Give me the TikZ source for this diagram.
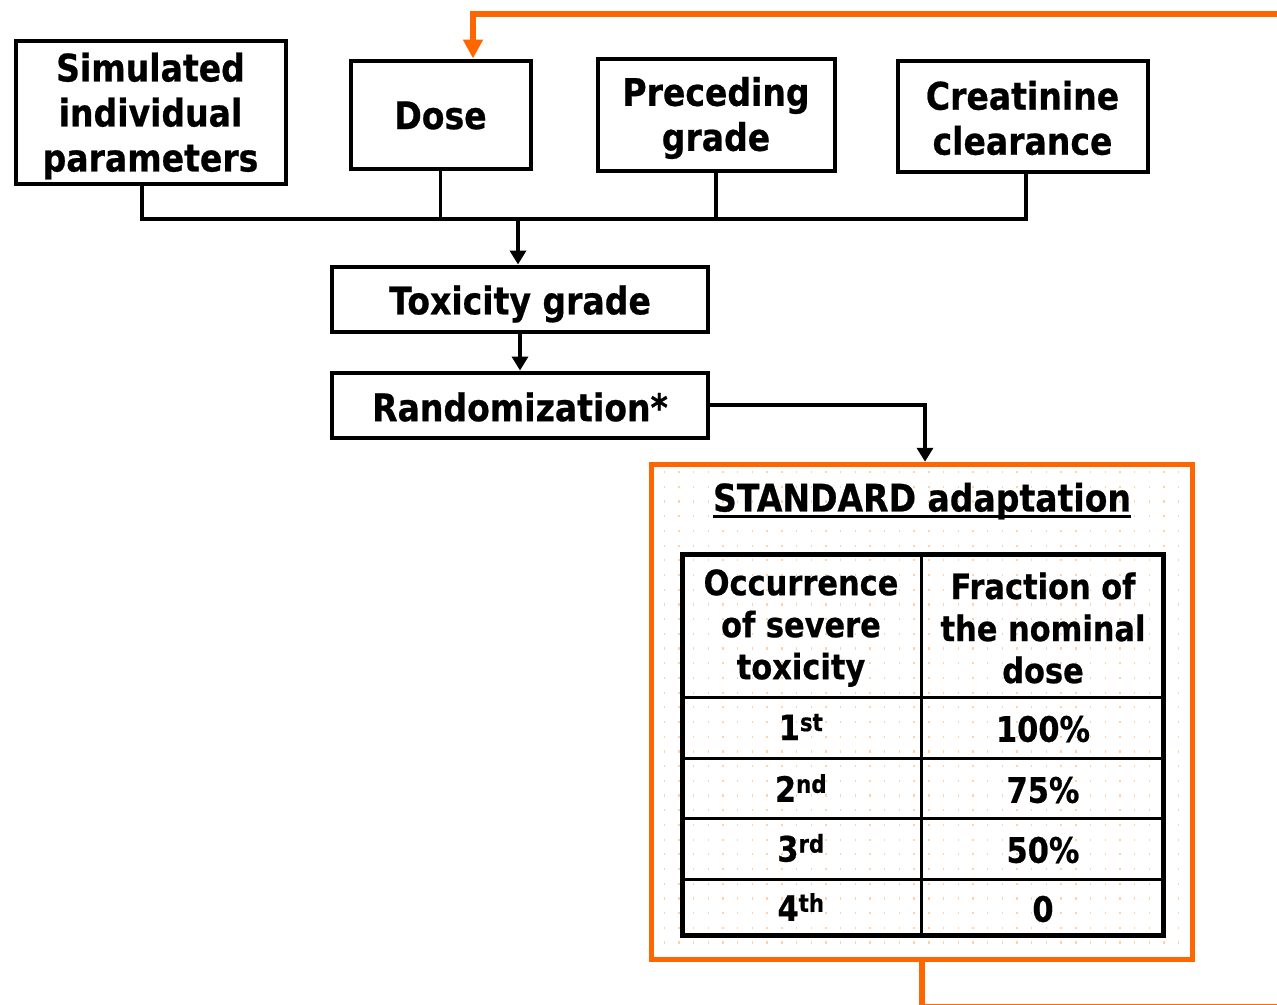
\documentclass[tikz,border=0pt]{standalone}
\usepackage{fontspec}
\setmainfont{DejaVu Sans}[FakeStretch=0.87,BoldFeatures={FakeBold=0.6}]
\usetikzlibrary{arrows.meta}
\definecolor{orng}{HTML}{FF6600}
\definecolor{dotc}{HTML}{FFD2A8}

\begin{document}
\begin{tikzpicture}[x=1pt,y=-1pt,
  box/.style={draw,line width=4pt,inner sep=0pt},
  txt/.style={align=center,inner sep=0pt,
    font=\fontsize{38}{45}\selectfont\bfseries},
  cell/.style={align=center,inner sep=0pt,
    font=\fontsize{35}{42}\selectfont\bfseries},
  conn/.style={line width=3.5pt},
  arr/.style={conn,-{Triangle[length=14pt,width=16pt]}},
  fb/.style={draw=orng,line width=6pt},
  fbarr/.style={fb,-{Triangle[length=19pt,width=19pt]}},
]
\useasboundingbox (0,0) rectangle (1277,1004);
\clip (0,0) rectangle (1277,1004);

% input boxes
\node[box,minimum width=270pt,minimum height=143pt] (sim) at (150.5,112) {};
\node[txt] (simT) at ([yshift=-4pt]sim.center) {Simulated\\individual\\parameters};
\node[box,minimum width=180pt,minimum height=108pt] (dose) at (440.5,114.5) {};
\node[txt] (doseT) at ([yshift=-1pt]dose.center) {Dose};
\node[box,minimum width=237pt,minimum height=112pt] (prec) at (716,114.5) {};
\node[txt] (precT) at ([yshift=-3.5pt]prec.center) {Preceding\\grade};
\node[box,minimum width=250pt,minimum height=111pt] (creat) at (1022.5,116) {};
\node[txt] (creatT) at ([yshift=-2pt]creat.center) {Creatinine\\clearance};

% model steps
\node[box,minimum width=376pt,minimum height=65pt] (tox) at (520,299) {};
\node[txt] (toxT) at ([yshift=-5pt]tox.center) {Toxicity grade};
\node[box,minimum width=376pt,minimum height=65pt] (rand) at (520,405) {};
\node[txt] (randT) at ([yshift=-2pt]rand.center) {Randomization*};

% collecting bus
\coordinate (busL) at (142,219);
\coordinate (busR) at (1026,219);
\draw[conn] (sim.south -| busL) -- (busL) -- (busR) -- (busR |- creat.south);
\draw[conn] (dose.south) -- (dose.south |- busL);
\draw[conn] (prec.south) -- (prec.south |- busL);
\draw[arr] ([xshift=-2pt]tox.north |- busL) -- ([xshift=-2pt]tox.north);
\draw[arr] (tox.south) -- (rand.north);

% dose adaptation panel
\node[draw=orng,line width=5.5pt,minimum width=541pt,minimum height=495pt,inner sep=0pt]
  (std) at (922,712) {};
\foreach \i in {0,...,35}{
  \foreach \j in {0,...,32}{
    \fill[dotc] ({663.5+14.7*\i},{471+14.7*\j}) rectangle ++(1.4,2.2);
  }
}
\draw[arr] (rand.east) -| ([xshift=3pt]std.north);

\node[inner sep=0pt,font=\fontsize{38}{40}\selectfont\bfseries] (title) at (922,501)
  {STANDARD adaptation};
\draw[line width=3pt] ([yshift=-5pt]title.base west) -- ([yshift=-5pt]title.base east);

% table
\node[draw,line width=5.5pt,minimum width=481pt,minimum height=381pt,inner sep=0pt]
  (tab) at (923,745) {};
\draw[line width=3pt] (921,554.5) -- (921,935.5);
\foreach \y in {697,758,818,879}{
  \draw[line width=3pt] (682.5,\y) -- (1163.5,\y);
}
\node[cell] (h1) at (801,628) {Occurrence\\of severe\\toxicity};
\node[cell] (h2) at (1043,628) {Fraction of\\the nominal\\dose};
\node[cell] (r1a) at (801,727) {1\textsuperscript{st}};
\node[cell] (r1b) at (1043,729) {100\%};
\node[cell] (r2a) at (801,788) {2\textsuperscript{nd}};
\node[cell] (r2b) at (1043,790) {75\%};
\node[cell] (r3a) at (801,848) {3\textsuperscript{rd}};
\node[cell] (r3b) at (1043,850) {50\%};
\node[cell] (r4a) at (801,907) {4\textsuperscript{th}};
\node[cell] (r4b) at (1043,909) {0};

% feedback loop to the dose
\coordinate (fbBot) at (1300,1007);
\coordinate (fbTop) at (473,14);
\draw[fbarr] (std.south) -- (std.south |- fbBot) -- (fbBot) -- (fbBot |- fbTop)
  -- (fbTop) -- (fbTop |- dose.north);
\end{tikzpicture}
\end{document}
